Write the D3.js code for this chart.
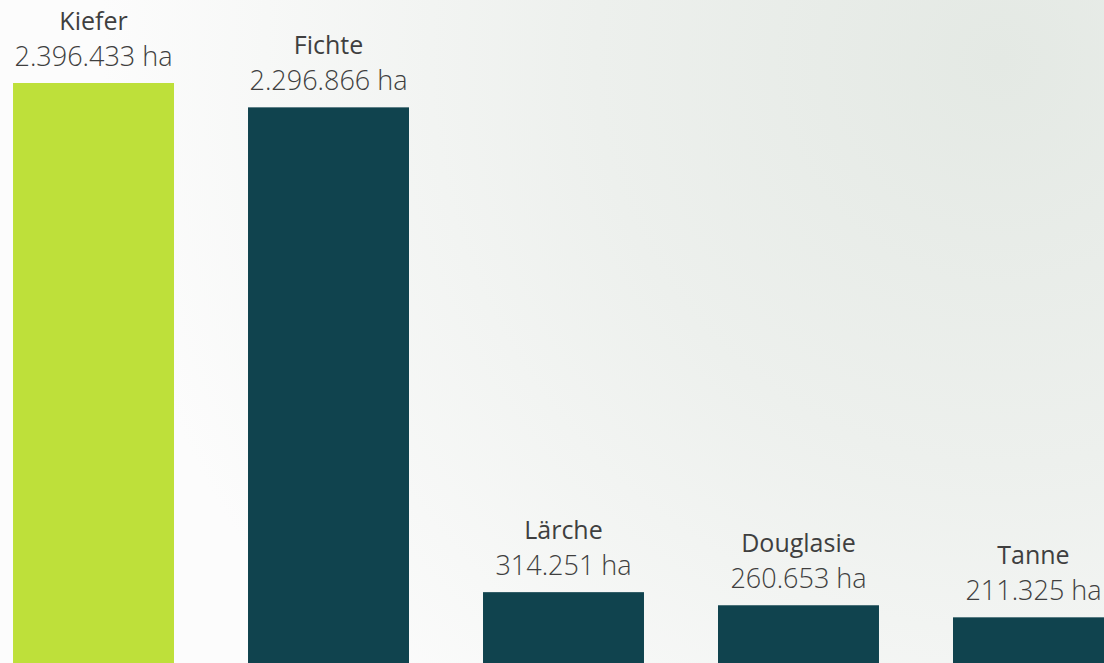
<!DOCTYPE html>
<html>
<head>
<meta charset="utf-8">
<script src="https://cdn.jsdelivr.net/npm/d3@7"></script>
<style>
  html, body { margin: 0; padding: 0; overflow: hidden; }
  svg { display: block; }
</style>
</head>
<body>
<div id="chart"></div>
<script>
var species = ['Kiefer', 'Fichte', 'Lärche', 'Douglasie', 'Tanne'];
var areas = [2396433, 2296866, 314251, 260653, 211325];
var barColors = ['#bee03a', '#10434e', '#10434e', '#10434e', '#10434e'];

var width = 1104;
var height = 663;

var data = species.map(function(s, i) { return { name: s, value: areas[i], color: barColors[i] }; });

var x = d3.scaleBand()
  .domain(species)
  .range([-61, 1188]) // last bar runs past the right edge
  .paddingInner(0.315)
  .paddingOuter(0.315);

var y = d3.scaleLinear()
  .domain([0, d3.max(areas)])
  .range([669, 83]);

var fmt = function(v) { return d3.format(',')(v).replace(/,/g, '.') + ' ha'; };

var svg = d3.select('#chart')
  .append('svg')
  .attr('width', width)
  .attr('height', height);

// soft background
var defs = svg.append('defs');
var grad = defs.append('radialGradient')
  .attr('id', 'bg')
  .attr('gradientUnits', 'userSpaceOnUse')
  .attr('cx', 1000).attr('cy', 60).attr('r', 900);
grad.append('stop').attr('offset', '0%').attr('stop-color', '#e4e9e4');
grad.append('stop').attr('offset', '45%').attr('stop-color', '#edf0ed');
grad.append('stop').attr('offset', '100%').attr('stop-color', '#fcfcfc');

svg.append('rect')
  .attr('width', width)
  .attr('height', height)
  .attr('fill', 'url(#bg)');

var groups = svg.selectAll('g.bar')
  .data(data)
  .enter()
  .append('g')
  .attr('class', 'bar');

groups.append('rect')
  .attr('x', function(d) { return x(d.name); })
  .attr('y', function(d) { return y(d.value); })
  .attr('width', x.bandwidth())
  .attr('height', function(d) { return y(0) - y(d.value); })
  .attr('fill', function(d) { return d.color; });

groups.append('text')
  .attr('x', function(d) { return x(d.name) + x.bandwidth() / 2; })
  .attr('y', function(d) { return y(d.value) - 53; })
  .attr('text-anchor', 'middle')
  .attr('font-family', 'Open Sans, sans-serif')
  .attr('font-size', 25)
  .attr('fill', '#3f3f3f')
  .text(function(d) { return d.name; });

groups.append('text')
  .attr('x', function(d) { return x(d.name) + x.bandwidth() / 2; })
  .attr('y', function(d) { return y(d.value) - 17; })
  .attr('text-anchor', 'middle')
  .attr('font-family', 'Open Sans, sans-serif')
  .attr('font-weight', 300)
  .attr('font-size', 27)
  .attr('fill', '#3f3f3f')
  .text(function(d) { return fmt(d.value); });
</script>
</body>
</html>
